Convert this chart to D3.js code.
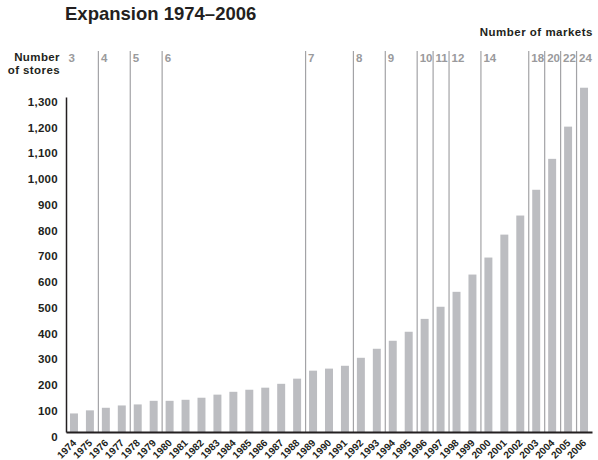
<!DOCTYPE html>
<html>
<head>
<meta charset="utf-8">
<script src="https://cdn.jsdelivr.net/npm/d3@7"></script>
<style>
  html, body { margin: 0; padding: 0; background: #fff; }
  svg { display: block; font-family: "Liberation Sans", Arial, Helvetica, sans-serif; }
</style>
</head>
<body>
<svg id="chart" width="598" height="460"></svg>
<script>
// Stores per year
const years = d3.range(1974, 2007).map(String);
const stores = [72, 84, 94, 103, 107, 121, 121, 125, 133, 145, 156, 164, 172, 187, 207,
                238, 246, 257, 288, 323, 354, 389, 439, 486, 544, 611, 677, 766, 840, 940,
                1060, 1185, 1336];

// Year in which the number of markets changed, and the new count
const marketYears = ["1974", "1976", "1978", "1980", "1989", "1992", "1994", "1996",
                     "1997", "1998", "2000", "2003", "2004", "2005", "2006"];
const marketCounts = [3, 4, 5, 6, 7, 8, 9, 10, 11, 12, 14, 18, 20, 22, 24];

const yTicks = d3.range(0, 1301, 100);

const svg = d3.select("#chart");
const ink = "#231f20";
const grey = "#a3a3a6";
const font = "Liberation Sans, Arial, sans-serif";

const x = d3.scaleBand().domain(years).range([66, 592]).paddingInner(0.5).paddingOuter(0.25);
const y = d3.scaleLinear().domain([0, 1300]).range([432, 97]);

// Title and axis captions
svg.append("text").attr("x", 65).attr("y", 20)
  .attr("font-size", 18.5).attr("font-weight", "bold").attr("fill", ink)
  .text("Expansion 1974\u20132006");

svg.append("text").attr("x", 593).attr("y", 36).attr("text-anchor", "end")
  .attr("font-size", 11.5).attr("font-weight", "bold").attr("fill", ink)
  .attr("letter-spacing", 0.5)
  .text("Number of markets");

const cap = svg.append("text").attr("text-anchor", "end")
  .attr("font-size", 11.5).attr("font-weight", "bold").attr("fill", ink)
  .attr("letter-spacing", 0.4);
cap.append("tspan").attr("x", 60).attr("y", 61).text("Number");
cap.append("tspan").attr("x", 60).attr("y", 74).text("of stores");

// Market change markers
const markX = d => marketYears.indexOf(d) === 0 ? 66 : x(d) - x.step() * 0.25 + 0.5;
const markers = svg.append("g");
markers.selectAll("line")
  .data(marketYears.slice(1))
  .join("line")
  .attr("x1", d => markX(d)).attr("x2", d => markX(d))
  .attr("y1", 51).attr("y2", 432)
  .attr("stroke", grey).attr("stroke-width", 1.2);
markers.selectAll("text")
  .data(marketYears)
  .join("text")
  .attr("x", d => markX(d) + 2.5)
  .attr("y", 62)
  .attr("font-size", 11.5).attr("font-weight", "bold").attr("fill", "#9a9a9c")
  .text((d, i) => marketCounts[i]);

// Bars
svg.append("g").selectAll("rect")
  .data(years)
  .join("rect")
  .attr("x", d => x(d))
  .attr("width", x.bandwidth())
  .attr("y", (d, i) => y(stores[i]))
  .attr("height", (d, i) => y(0) - y(stores[i]))
  .attr("fill", "#bcbdc1");

// Y axis
const yAxis = svg.append("g").attr("transform", "translate(66,0)")
  .call(d3.axisLeft(y).tickValues(yTicks).tickFormat(d3.format(",")).tickSize(0).tickPadding(8));
yAxis.select(".domain").attr("stroke", ink).attr("stroke-width", 1.5);
yAxis.selectAll("text")
  .attr("font-family", font)
  .attr("font-size", 11.5).attr("font-weight", "bold").attr("fill", ink)
  .attr("letter-spacing", 0.3)
  .attr("dy", "0.72em");

// X axis: year labels run diagonally, ending just under each bar
const xAxis = svg.append("g").attr("transform", "translate(0,432)")
  .call(d3.axisBottom(x).tickSize(0).tickSizeOuter(0));
xAxis.select(".domain").attr("stroke", ink).attr("stroke-width", 2);
xAxis.selectAll(".tick text")
  .attr("font-family", font)
  .attr("font-size", 10).attr("font-weight", "bold").attr("fill", ink)
  .attr("text-anchor", "end")
  .attr("x", 0).attr("y", 0).attr("dy", null)
  .attr("transform", "translate(3,11.5) rotate(-45)");
</script>
</body>
</html>
